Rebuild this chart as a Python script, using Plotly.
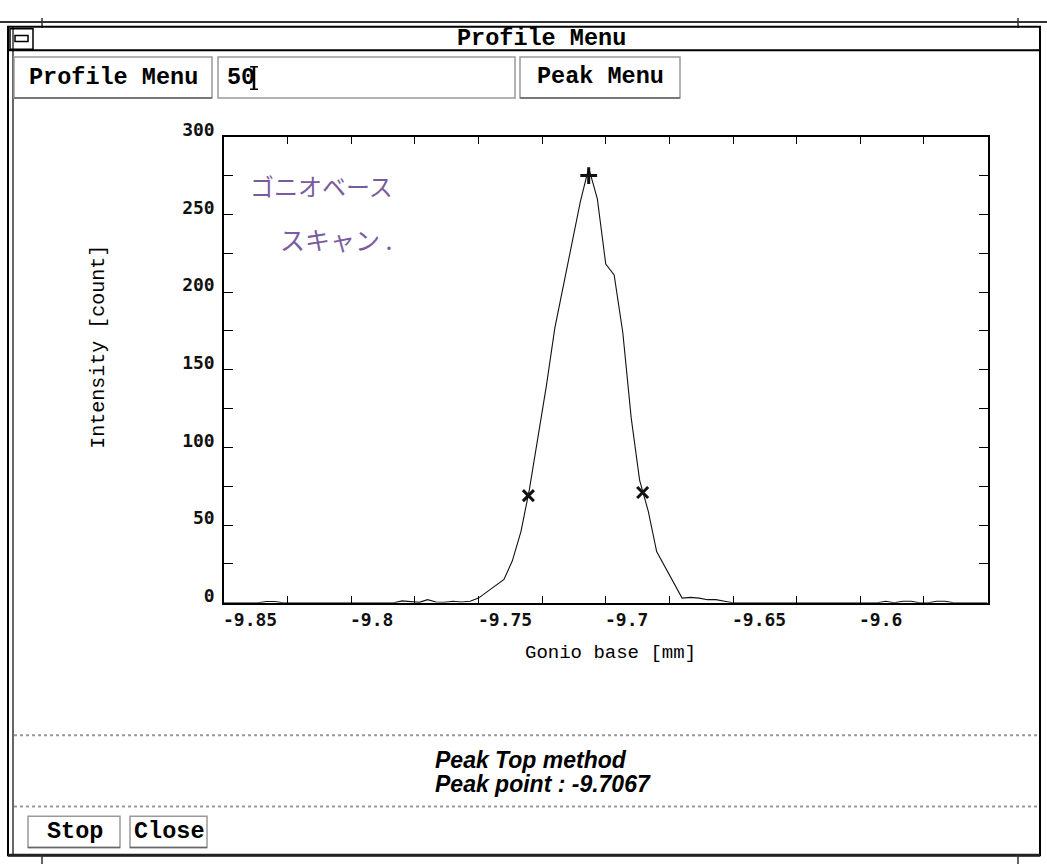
import plotly.graph_objects as go

# ---------------- data ----------------
x_scan = [-9.8500, -9.8367, -9.8333, -9.8300, -9.8267, -9.7833, -9.7800, -9.7767,
          -9.7733, -9.7700, -9.7667, -9.7633, -9.7600, -9.7567, -9.7533, -9.7500,
          -9.7467, -9.7433, -9.7400, -9.7367, -9.7333, -9.7300, -9.7267, -9.7233,
          -9.7200, -9.7167, -9.7133, -9.7100, -9.7067, -9.7033, -9.7000, -9.6967,
          -9.6933, -9.6900, -9.6867, -9.6833, -9.6800, -9.6767, -9.6733, -9.6700,
          -9.6667, -9.6633, -9.6600, -9.6567, -9.6533, -9.6500, -9.6000, -9.5933,
          -9.5900, -9.5867, -9.5833, -9.5800, -9.5767, -9.5733, -9.5700, -9.5667,
          -9.5633, -9.5500]
y_scan = [0, 0, 0.8, 0.8, 0, 0, 1.2, 0.8,
          0.3, 2.0, 0.5, 0.3, 1.0, 0.5, 1.0, 3,
          7, 11, 15, 27, 46, 73, 105, 140,
          177, 204, 231, 258, 280, 260, 218, 211,
          174, 119, 79, 59, 33, 23, 12, 3,
          3.5, 3, 2, 2, 1, 0, 0, 0,
          1.0, 0, 1.0, 1.0, 0, 0, 1.0, 1.0,
          0, 0]

peak_x = [-9.7067]
peak_y = [275]
half_x = [-9.7304, -9.6855]
half_y = [69, 71]

x_label_vals = [-9.85, -9.8, -9.75, -9.7, -9.65, -9.6]
x_label_text = ["-9.85", "-9.8", "-9.75", "-9.7", "-9.65", "-9.6"]
y_tick_vals = [0, 25, 50, 75, 100, 125, 150, 175, 200, 225, 250, 275, 300]
y_tick_text = ["0", "", "50", "", "100", "", "150", "", "200", "", "250", "", "300"]

x_title = "Gonio base [mm]"
y_title = "Intensity [count]"
window_title = "Profile Menu"
field_value = "50"
method_line = "Peak Top method"
peak_line = "Peak point : -9.7067"
note_line1 = "ゴニオベース"
note_line2 = "スキャン ."

# ---------------- geometry helpers ----------------
W, H = 1047, 867
def px(v):
    return v / W
def py(v):
    return 1 - v / H

MONO = "Liberation Mono"
TICKF = "DejaVu Sans Mono"

fig = go.Figure()
fig.add_trace(go.Scatter(x=x_scan, y=y_scan, mode="lines",
                         line=dict(color="#111111", width=1.1), showlegend=False,
                         hoverinfo="skip"))
fig.add_trace(go.Scatter(x=peak_x, y=peak_y, mode="markers", showlegend=False,
                         marker=dict(symbol="cross-thin", size=12, color="#111111",
                                     line=dict(color="#111111", width=3))))
fig.add_trace(go.Scatter(x=half_x, y=half_y, mode="markers", showlegend=False,
                         marker=dict(symbol="x-thin", size=11, color="#111111",
                                     line=dict(color="#111111", width=3))))

shapes = []
def line(x0, y0, x1, y1, color="#000000", width=2, dash=None):
    d = dict(type="line", xref="paper", yref="paper", x0=px(x0), y0=py(y0),
             x1=px(x1), y1=py(y1), line=dict(color=color, width=width))
    if dash:
        d["line"]["dash"] = dash
    shapes.append(d)
def rect(x0, y0, x1, y1, color="#000000", width=1.5, fill=None):
    d = dict(type="rect", xref="paper", yref="paper", x0=px(x0), y0=py(y0),
             x1=px(x1), y1=py(y1), line=dict(color=color, width=width))
    if fill:
        d["fillcolor"] = fill
    shapes.append(d)

# outer screen decoration
line(0, 4, 1047, 4, "#333333", 2)
line(42, 0, 42, 10, "#333333", 1.5)
line(1018, 0, 1018, 10, "#333333", 1.5)
# window frame
rect(8, 9, 1040, 858, "#000000", 2)
line(13, 9, 13, 858, "#000000", 1.2)
line(8, 858, 1040, 858, "#222222", 3)
line(42, 858, 42, 867, "#333333", 1.5)
line(1018, 858, 1018, 867, "#333333", 1.5)
# title bar
line(8, 33, 1040, 33, "#000000", 2)
rect(10, 11, 33, 32, "#000000", 1.5)
rect(15, 18, 28, 24, "#000000", 1.5)
# toolbar buttons (light top/left, darker bottom/right)
rect(14, 40, 212, 82, "#999999", 1.5)
line(14, 82, 212, 82, "#666666", 1.5)
rect(218, 40, 515, 82, "#999999", 1.5)
rect(520, 40, 680, 82, "#999999", 1.5)
line(520, 82, 680, 82, "#666666", 1.5)
# text cursor
line(254, 50, 254, 73, "#000000", 2.5)
line(250, 50, 258, 50, "#000000", 1.5)
line(250, 73, 258, 73, "#000000", 1.5)
# separators
line(14, 735, 1040, 735, "#999999", 2, "dot")
line(14, 808, 1040, 808, "#999999", 2, "dot")
# bottom buttons
rect(28, 818, 120, 850, "#999999", 1.5)
line(28, 850, 120, 850, "#666666", 1.5)
rect(130, 818, 207, 850, "#999999", 1.5)
line(130, 850, 207, 850, "#666666", 1.5)

ann = []
def text(x, y, s, size, family=MONO, bold=True, italic=False, color="#000000",
         xanchor="center", angle=0):
    t = s
    if bold:
        t = "<b>" + t + "</b>"
    if italic:
        t = "<i>" + t + "</i>"
    ann.append(dict(x=px(x), y=py(y), xref="paper", yref="paper", text=t,
                    showarrow=False, xanchor=xanchor, yanchor="middle",
                    textangle=angle,
                    font=dict(family=family, size=size, color=color)))

text(541, 21, window_title, 23.5)
text(113, 61, "Profile Menu", 23.5)
text(225, 61, field_value, 23.5, xanchor="left")
text(600, 60, "Peak Menu", 23.5)
text(75, 834, "Stop", 23.5)
text(169, 834, "Close", 23.5)
text(531, 760, method_line, 23, family="Liberation Sans Narrow, Liberation Sans",
     italic=True)
text(543, 785, peak_line, 23, family="Liberation Sans Narrow, Liberation Sans",
     italic=True)
text(610, 651, x_title, 19, bold=False, color="#000000")
text(99, 337, y_title, 20, bold=False, color="#000000", angle=-90)
# handwritten note
text(321, 172, note_line1, 24, family="Noto Sans CJK JP", bold=False,
     color="#7a5c9e")
text(336, 226, note_line2, 25, family="Noto Sans CJK JP", bold=False,
     color="#7a5c9e")

# x tick labels, left-aligned at their ticks (as in the original software)
for v, s in zip(x_label_vals, x_label_text):
    ann.append(dict(x=v, y=py(616), xref="x", yref="paper", text="<b>" + s + "</b>",
                    showarrow=False, xanchor="left", yanchor="middle", xshift=-3,
                    font=dict(family=TICKF, size=18, color="#111111")))

fig.update_layout(
    width=W, height=H, margin=dict(l=0, r=0, t=0, b=0),
    paper_bgcolor="white", plot_bgcolor="white",
    shapes=shapes, annotations=ann, showlegend=False,
    xaxis=dict(domain=[px(224), px(987.5)], range=[-9.85, -9.55],
               showgrid=False, zeroline=False, showline=True, mirror="ticks",
               linecolor="#000000", linewidth=1.5,
               ticks="inside", tick0=-9.85, dtick=0.025, ticklen=7,
               tickcolor="#000000", tickwidth=1.2, showticklabels=False),
    yaxis=dict(domain=[py(599.3), py(121.7)], range=[0, 300],
               showgrid=False, zeroline=False, showline=True, mirror="ticks",
               linecolor="#000000", linewidth=1.5,
               ticks="inside", tickvals=y_tick_vals, ticktext=y_tick_text,
               ticklen=9, tickcolor="#000000", tickwidth=1.2,
               ticklabelshift=-7, ticklabelstandoff=4,
               tickfont=dict(family=TICKF, size=18, color="#111111", weight="bold")),
)

fig.write_html("out.html")
